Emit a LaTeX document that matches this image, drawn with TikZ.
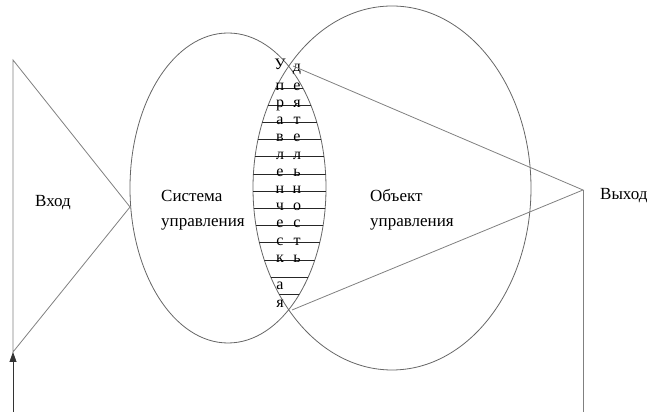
\documentclass[tikz,border=0pt]{standalone}
\usepackage{fontspec}
\setmainfont{Liberation Serif}
\usetikzlibrary{positioning, arrows.meta}

\begin{document}
\begin{tikzpicture}[x=1pt, y=1pt,
    ring/.style={draw=black!60, line width=0.8pt},
    edge/.style={draw=black!50, line width=0.8pt},
    rule/.style={draw=black!85, line width=0.8pt},
    lbl/.style={font=\fontsize{17}{25}\selectfont, inner sep=0pt, align=left},
    letter/.style={font=\fontsize{16}{16}\selectfont, inner sep=0pt, anchor=base}]
  \useasboundingbox (0,0) rectangle (649,412);

  % the two areas
  \draw[ring] (228,224) ellipse [x radius=98, y radius=155];
  \draw[ring] (392,224) ellipse [x radius=139, y radius=182];

  % rows inside the overlap
  \begin{scope}
    \clip (228,224) ellipse [x radius=98, y radius=155];
    \clip (392,224) ellipse [x radius=139, y radius=182];
    \foreach \i in {0,...,12}
      \draw[rule] (240,{324-17.2*\i}) -- (340,{324-17.2*\i});
  \end{scope}

  \foreach \ch/\yy [count=\k] in {У/342, п/321, р/304, а/287, в/270, л/252, е/235,
      н/218, ч/201, е/184, с/166, к/149, а/122, я/104}
    \node[letter] (ul\k) at (280,\yy) {\ch};
  \foreach \ch/\yy [count=\k] in {д/340, е/321, я/304, т/287, е/270, л/252, ь/235,
      н/218, о/201, с/184, т/166, ь/149}
    \node[letter] (dl\k) at (297,\yy) {\ch};

  % input and output
  \coordinate (inTop) at (13,352);
  \coordinate (inApex) at (130,205);
  \coordinate (inTip) at (13,60);
  \coordinate (inFoot) at (13,0);
  \coordinate (lensTop) at (293,346);
  \coordinate (lensBot) at (292,102);
  \coordinate (outApex) at (583,222);
  \coordinate (outFoot) at (583,0);

  \draw[edge] (inTop) -- (inApex) -- (inTip) -- cycle;
  \draw[edge, draw=black!80, -{Triangle[length=10pt, width=7pt]}] (inFoot) -- (inTip);
  \draw[edge] (lensTop) -- (outApex) -- (lensBot);
  \draw[edge] (outApex) -- (outFoot);

  \node[lbl, anchor=base west] (vhod) at (35,205) {Вход};
  \node[lbl, anchor=west] (sysl) at (161,202) {Система\\управления};
  \node[lbl, anchor=west] (objl) at (370,202) {Объект\\управления};
  \node[lbl, anchor=base west] (vyhod) at (600,212) {Выход};
\end{tikzpicture}
\end{document}
